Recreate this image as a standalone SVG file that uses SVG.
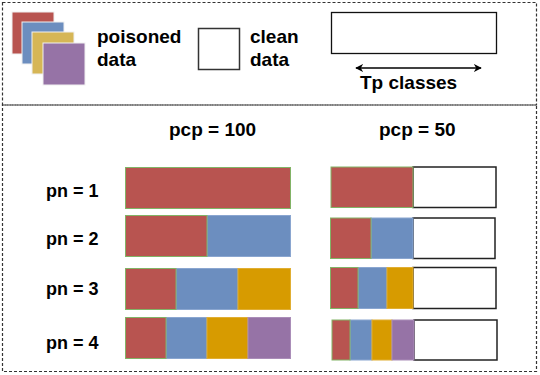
<svg xmlns="http://www.w3.org/2000/svg" width="540" height="375" viewBox="0 0 540 375">
<style>
.t{font-family:"Liberation Sans",Arial,sans-serif;font-weight:bold;fill:#000}
.lg{font-size:19px}
.lb{font-size:18px}
.frame{fill:none;stroke:#333;stroke-width:1.2;stroke-dasharray:3,2}
.r{fill:#B85450;stroke:#82B366;stroke-width:1}
.b{fill:#6C8EBF;stroke:#8AA6D0;stroke-width:1}
.y{fill:#D79B00;stroke:#E0AE33;stroke-width:1}
.p{fill:#9673A6;stroke:#AA8DB8;stroke-width:1}
.w{fill:#fff;stroke:#222;stroke-width:1.5}
.ls{stroke:#f0f0f0;stroke-width:1}
</style>
<defs>
<marker id="ah" viewBox="0 0 10 10" refX="9" refY="5" markerWidth="8" markerHeight="8" markerUnits="userSpaceOnUse" orient="auto-start-reverse">
<path d="M0,0 L10,5 L0,10 L3,5 Z" fill="#000"/>
</marker>
</defs>
<rect class="frame" x="2.5" y="2.5" width="534" height="102.5"/>
<rect class="frame" x="2.5" y="105" width="534" height="266.5"/>

<g id="legend-poisoned">
<rect class="ls" x="12" y="12" width="42" height="42" fill="#B85450"/>
<rect class="ls" x="22" y="22" width="42" height="42" fill="#6C8EBF"/>
<rect class="ls" x="32" y="32" width="42" height="42" fill="#D6B656"/>
<rect class="ls" x="43" y="43" width="42" height="42" fill="#9673A6"/>
<text class="t lg" x="97" y="43">poisoned</text>
<text class="t lg" x="97" y="66">data</text>
</g>
<g id="legend-clean">
<rect x="198.5" y="28.5" width="41" height="41" fill="#fff" stroke="#333" stroke-width="1.5"/>
<text class="t lg" x="250" y="43">clean</text>
<text class="t lg" x="250" y="66">data</text>
</g>
<g id="legend-tp">
<rect x="331.5" y="12.5" width="165" height="41" fill="#fff" stroke="#111" stroke-width="1.3"/>
<text class="t lg" x="360" y="89">Tp classes</text>
</g>
<g id="connectors">
<line x1="356" y1="68" x2="481" y2="68" stroke="#000" stroke-width="1.5" marker-start="url(#ah)" marker-end="url(#ah)"/>
</g>

<g id="labels">
<text class="t lg" x="169" y="136">pcp = 100</text>
<text class="t lg" x="379" y="136">pcp = 50</text>
<text class="t lb" x="46" y="197">pn = 1</text>
<text class="t lb" x="46" y="245">pn = 2</text>
<text class="t lb" x="46" y="295">pn = 3</text>
<text class="t lb" x="46" y="349">pn = 4</text>
</g>

<g id="bar-100-1">
<rect class="r" x="125.5" y="167.5" width="165" height="41" stroke="#C98A87"/>
</g>
<g id="bar-100-2">
<rect class="b" x="207" y="215.5" width="83.5" height="41"/>
<rect class="r" x="125.5" y="215.5" width="81.5" height="41"/>
</g>
<g id="bar-100-3">
<rect class="b" x="176" y="268.5" width="62" height="41"/>
<rect class="y" x="238" y="268.5" width="52.5" height="41"/>
<rect class="r" x="125.5" y="268.5" width="50.5" height="41"/>
</g>
<g id="bar-100-4">
<rect class="b" x="166" y="317.5" width="41" height="41"/>
<rect class="y" x="207" y="317.5" width="41" height="41"/>
<rect class="p" x="248" y="317.5" width="42.5" height="41"/>
<rect class="r" x="125.5" y="317.5" width="40.5" height="41"/>
</g>

<g id="bar-50-1">
<rect class="w" x="413" y="167" width="83" height="40.5"/>
<rect class="r" x="331" y="167" width="82" height="40.5"/>
</g>
<g id="bar-50-2">
<rect class="w" x="413" y="218" width="82" height="40.5"/>
<rect class="b" x="371" y="218" width="42" height="40.5"/>
<rect class="r" x="330.5" y="218" width="40.5" height="40.5"/>
</g>
<g id="bar-50-3">
<rect class="w" x="413" y="267.5" width="83" height="41"/>
<rect class="b" x="358" y="267.5" width="29" height="41"/>
<rect class="y" x="387" y="267.5" width="26" height="41"/>
<rect class="r" x="330.5" y="267.5" width="27.5" height="41"/>
</g>
<g id="bar-50-4">
<rect class="w" x="414" y="320" width="83" height="40"/>
<rect class="b" x="350" y="320" width="22" height="40"/>
<rect class="y" x="372" y="320" width="20" height="40"/>
<rect class="p" x="392" y="320" width="22" height="40"/>
<rect class="r" x="332" y="320" width="18" height="40"/>
</g>
</svg>
